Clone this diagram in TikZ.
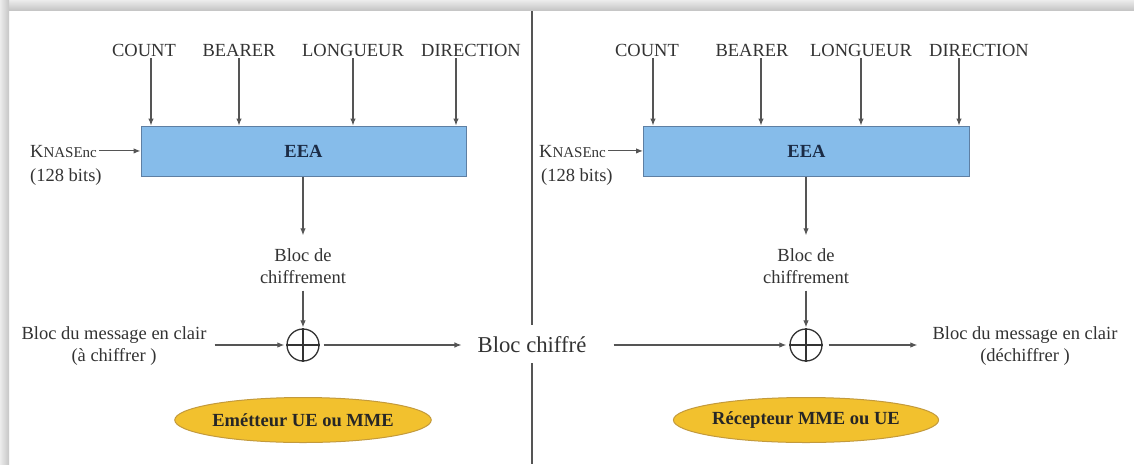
\documentclass[tikz,border=0pt]{standalone}
\usepackage{fontspec}
\setmainfont{LiberationSerif}[Extension=.ttf, UprightFont=*-Regular, BoldFont=*-Bold, ItalicFont=*-Italic, BoldItalicFont=*-BoldItalic]
\usetikzlibrary{arrows.meta,shapes.geometric,calc}
\definecolor{boxfill}{HTML}{86BCEA}
\definecolor{boxline}{HTML}{5E7FA3}
\definecolor{ellfill}{HTML}{F2C12E}
\definecolor{ellline}{HTML}{C39A3C}
\definecolor{txt}{HTML}{333333}
\definecolor{arrc}{HTML}{555555}
\definecolor{eeatxt}{HTML}{1B2B45}
\begin{document}
\begin{tikzpicture}[x=1pt,y=-1pt,
 font=\fontsize{18.5}{22}\selectfont, text=txt,
 lbl/.style={inner sep=2pt, text depth=0pt},
 arr/.style={draw=arrc, line width=1.1pt, -{Latex[length=7pt,width=5.5pt]}},
 eea/.style={draw=boxline, line width=1pt, fill=boxfill, minimum width=325pt, minimum height=50pt, inner sep=0pt, font=\fontsize{18.5}{22}\selectfont\bfseries, text=eeatxt},
 xorn/.style={circle, draw=txt, line width=1.3pt, minimum size=32pt, inner sep=0pt},
 role/.style={ellipse, draw=ellline, line width=1pt, fill=ellfill, minimum height=45pt, inner sep=0pt, font=\fontsize{18.5}{22}\selectfont\bfseries, text=black!85},
 stack/.style={align=center, inner sep=2pt},
 knas/.style={lbl, anchor=base west},
]
\useasboundingbox (0,0) rectangle (1134,464);
\fill[white] (0,0) rectangle (1134,464);
% shadow frame
\shade[top color=gray!15, bottom color=gray!45] (0,0) rectangle (1134,10);
\shade[left color=gray!15, right color=gray!45] (0,0) rectangle (9,464);
% divider
\draw[draw=arrc, line width=1.2pt] (532,11) -- (532,325);
\draw[draw=arrc, line width=1.2pt] (532,363) -- (532,464);

% ---------------- left half
\node[eea] (e1) at (303.5,151) {EEA};
\node[lbl, anchor=base] (c1) at (144,56) {COUNT};
\node[lbl, anchor=base] (be1) at (239,56) {BEARER};
\node[lbl, anchor=base] (lo1) at (353,56) {LONGUEUR};
\node[lbl, anchor=base] (di1) at (471,56) {DIRECTION};
\draw[arr] ([xshift=7pt]c1.south) -- ([xshift=7pt]c1.south |- e1.north);
\draw[arr] (be1.south) -- (be1.south |- e1.north);
\draw[arr] (lo1.south) -- (lo1.south |- e1.north);
\draw[arr] ([xshift=-15pt]di1.south) -- ([xshift=-15pt]di1.south |- e1.north);
\node[knas] (k1) at (28,157) {K{\fontsize{15}{18}\selectfont NASEnc}};
\node[knas] (kb1) at (28,181) {(128 bits)};
\draw[arr] (k1.east) -- (k1.east -| e1.west);
\node[stack] (b1) at (303,266) {Bloc de\\chiffrement};
\draw[arr, shorten >=11pt] (e1.south -| b1.north) -- (b1.north);
\node[xorn] (x1) at (303,345) {};
\draw[txt, line width=1.3pt] (x1.north) -- (x1.south) (x1.west) -- (x1.east);
\draw[arr, shorten <=5pt, shorten >=1pt] (b1.south) -- (x1.north);
\node[stack] (m1) at (114,346) {Bloc du message en clair\\(à chiffrer )};
\draw[arr, shorten <=6pt, shorten >=2pt] (m1.east |- x1) -- (x1.west);
\node[inner sep=0pt, font=\fontsize{22.7}{26}\selectfont] (bc) at (532,345) {Bloc chiffré};
\draw[arr, shorten <=4pt, shorten >=16pt] (x1.east) -- (bc.west);
\node[role, minimum width=223pt] (el1) at (303,420) {Emétteur UE ou MME};

% ---------------- right half
\node[eea, minimum width=326pt] (e2) at (806.5,151) {EEA};
\node[lbl, anchor=base] (c2) at (647,56) {COUNT};
\node[lbl, anchor=base] (be2) at (752,56) {BEARER};
\node[lbl, anchor=base] (lo2) at (861,56) {LONGUEUR};
\node[lbl, anchor=base] (di2) at (979,56) {DIRECTION};
\draw[arr] ([xshift=6pt]c2.south) -- ([xshift=6pt]c2.south |- e2.north);
\draw[arr] ([xshift=9pt]be2.south) -- ([xshift=9pt]be2.south |- e2.north);
\draw[arr] (lo2.south) -- (lo2.south |- e2.north);
\draw[arr] ([xshift=-20pt]di2.south) -- ([xshift=-20pt]di2.south |- e2.north);
\node[knas] (k2) at (537,157) {K{\fontsize{15}{18}\selectfont NASEnc}};
\node[knas] (kb2) at (539,181) {(128 bits)};
\draw[arr] (k2.east) -- (k2.east -| e2.west);
\node[stack] (b2) at (806,266) {Bloc de\\chiffrement};
\draw[arr, shorten >=11pt] (e2.south -| b2.north) -- (b2.north);
\node[xorn] (x2) at (806,345) {};
\draw[txt, line width=1.3pt] (x2.north) -- (x2.south) (x2.west) -- (x2.east);
\draw[arr, shorten <=5pt, shorten >=1pt] (b2.south) -- (x2.north);
\draw[arr, shorten <=27pt, shorten >=3pt] (bc.east) -- (x2.west);
\node[stack] (m2) at (1025,346) {Bloc du message en clair\\(déchiffrer )};
\draw[arr, shorten <=6pt, shorten >=13pt] (x2.east) -- (m2.west |- x2);
\node[role, minimum width=237pt] (el2) at (806,420) {Récepteur MME ou UE};
\end{tikzpicture}
\end{document}
